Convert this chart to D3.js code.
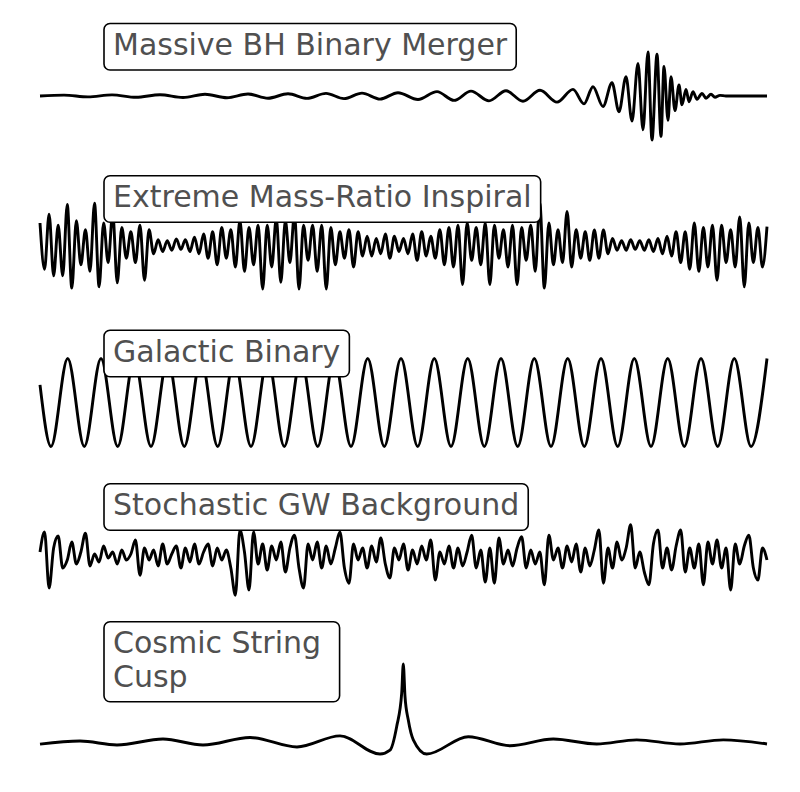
<!DOCTYPE html>
<html>
<head>
<meta charset="utf-8">
<script src="https://cdn.jsdelivr.net/npm/d3@7"></script>
<style>
  body { margin: 0; background: #fff; }
  svg { display: block; }
</style>
</head>
<body>
<svg id="chart" width="800" height="792"></svg>
<script>
// ---- data: time in samples (0..727), strain in normalised units ----

// massive BH binary merger: extrema of the chirp
const mergerT = [0, 24, 48, 72, 96, 120, 143, 165, 187, 208, 228, 248, 267, 286, 304, 322, 340, 358,
  378, 397, 414, 431, 449, 466, 483, 500, 517, 533, 544, 553, 563, 572, 579, 586, 592, 598, 603, 608,
  612, 617, 621, 624, 628, 631, 635, 639, 642, 646, 649, 653, 657, 662, 666, 671, 675, 680, 686, 727];
const mergerH = [0, 0.02, -0.02, 0.025, -0.03, 0.03, -0.035, 0.04, -0.04, 0.045, -0.05, 0.05, -0.055,
  0.06, -0.06, 0.065, -0.07, 0.075, -0.08, 0.1, -0.1, 0.11, -0.11, 0.12, -0.12, 0.13, -0.14, 0.15,
  -0.18, 0.21, -0.24, 0.3, -0.36, 0.44, -0.57, 0.74, -0.77, 1.0, -1.0, 0.95, -0.92, 0.67, -0.55, 0.44,
  -0.33, 0.25, -0.2, 0.15, -0.13, 0.1, -0.075, 0.06, -0.05, 0.04, -0.03, 0.015, 0, 0];

// extreme mass-ratio inspiral: evenly spaced samples
const emriH = [
  0.5, -0.55, 0.7, -0.7, 0.45, -0.7, 0.92, -0.98, 0.55, -0.45,
  0.35, -0.6, 0.95, -0.95, 0.5, -0.4, 0.73, -0.86, 0.4, -0.3,
  0.3, -0.4, 0.45, -0.8, 0.35, -0.2, 0.12, -0.15, 0.1, -0.12,
  0.14, -0.1, 0.12, -0.15, 0.18, -0.2, 0.25, -0.3, 0.3, -0.45,
  0.4, -0.3, 0.35, -0.5, 0.55, -0.6, 0.4, -0.45, 0.45, -1.0,
  0.45, -0.5, 0.6, -0.85, 0.55, -0.4, 0.7, -1.0, 0.45, -0.35,
  0.45, -0.6, 0.45, -1.0, 0.4, -0.45, 0.3, -0.3, 0.35, -0.5,
  0.3, -0.25, 0.2, -0.25, 0.15, -0.2, 0.25, -0.3, 0.2, -0.15,
  0.15, -0.2, 0.25, -0.35, 0.3, -0.25, 0.2, -0.3, 0.35, -0.45,
  0.4, -0.5, 0.45, -0.9, 0.5, -0.35, 0.4, -0.45, 0.5, -0.9,
  0.45, -0.3, 0.35, -0.5, 0.45, -0.9, 0.4, -0.35, 0.45, -0.6,
  0.95, -0.98, 0.5, -0.45, 0.35, -0.4, 0.76, -0.5, 0.35, -0.3,
  0.3, -0.35, 0.34, -0.3, 0.34, -0.2, 0.15, -0.12, 0.1, -0.12,
  0.12, -0.1, 0.1, -0.12, 0.12, -0.15, 0.15, -0.2, 0.2, -0.25,
  0.3, -0.4, 0.3, -0.55, 0.5, -0.6, 0.4, -0.5, 0.45, -0.8,
  0.45, -0.4, 0.35, -0.5, 0.64, -0.95, 0.5, -0.4, 0.4, -0.5, 0.42];

// galactic binary: start sample then every extremum
const gbT = [0, 11, 27.7, 44.3, 61, 77.7, 94.3, 111, 127.7, 144.3, 161, 177.7, 194.3, 211, 227.7, 244.3,
  261, 277.7, 294.3, 311, 327.7, 344.3, 361, 377.7, 394.3, 411, 427.7, 444.3, 461, 477.7, 494.3, 511,
  527.7, 544.3, 561, 577.7, 594.3, 611, 627.7, 644.3, 661, 677.7, 694.3, 711, 727];
const gbH = [0.4, -1, 1, -1, 1, -1, 1, -1, 1, -1, 1, -1, 1, -1, 1, -1, 1, -1, 1, -1, 1, -1, 1,
  -1, 1, -1, 1, -1, 1, -1, 1, -1, 1, -1, 1, -1, 1, -1, 1, -1, 1, -1, 1, -1, 1];

// stochastic background: evenly spaced samples
const sgwbH = [
  0.1, 0.6, -0.8, 0.2, 0.5, -0.3, -0.1, 0.35, -0.2, 0.1,
  0.57, -0.25, 0.05, -0.15, 0.25, -0.05, 0.1, -0.2, 0.15, -0.1,
  0.05, 0.4, -0.48, 0.2, -0.1, 0.15, -0.25, 0.3, -0.2, 0.05,
  0.25, -0.3, 0.2, -0.15, 0.3, -0.2, 0.1, 0.3, -0.25, 0.2,
  -0.1, 0.15, -0.3, -0.98, 0.65, 0.1, -0.85, 0.6, -0.2, 0.3,
  -0.35, 0.25, -0.1, 0.35, -0.4, 0.2, 0.52, -0.3, -0.8, 0.3,
  -0.1, 0.35, -0.3, 0.25, -0.2, 0.2, 0.6, -0.3, -0.68, 0.3,
  -0.1, 0.2, -0.3, 0.25, -0.15, 0.45, -0.2, -0.55, 0.2, -0.1,
  0.3, -0.35, 0.15, -0.2, 0.25, -0.1, 0.4, -0.6, 0.1, -0.2,
  0.25, -0.3, 0.2, -0.25, 0.1, 0.52, -0.3, 0.15, -0.65, 0.2,
  -0.68, 0.45, -0.2, 0.15, -0.25, 0.2, 0.48, -0.3, 0.15, -0.2,
  0.1, -0.72, 0.52, -0.1, 0.2, -0.3, 0.25, -0.15, 0.3, -0.4,
  0.2, -0.25, 0.15, 0.65, -0.68, 0.2, -0.3, 0.35, -0.1, 0.2,
  0.78, -0.3, 0.1, -0.4, -0.72, 0.3, 0.65, -0.3, 0.2, -0.35,
  0.25, 0.65, -0.4, 0.2, -0.3, 0.3, -0.72, 0.35, -0.2, 0.4,
  -0.3, 0.2, -0.85, 0.3, -0.2, 0.25, 0.52, -0.3, -0.6, 0.2, -0.1];

// cosmic string cusp
const cuspT = [0, 40, 77, 123, 163, 210, 257, 300, 340, 350, 356.7, 361.7, 363.3, 365, 368.3, 373.3,
  386.7, 428.3, 470, 513.3, 556.7, 596.7, 640, 683.3, 727];
const cuspH = [-0.015, 0.025, -0.025, 0.05, -0.025, 0.07, -0.05, 0.09, -0.14, -0.09, 0.21, 0.63, 1.0,
  0.59, 0.29, 0.04, -0.14, 0.08, -0.035, 0.05, -0.013, 0.04, -0.013, 0.04, -0.013];

const labels = [
  ['Massive BH Binary Merger'],
  ['Extreme Mass-Ratio Inspiral'],
  ['Galactic Binary'],
  ['Stochastic GW Background'],
  ['Cosmic String ', 'Cusp']
];

// evenly sampled series share the same time span
const evenT = (h) => h.map((d, i) => i * 727 / (h.length - 1));

// ---- layout ----
const svg = d3.select('#chart');
const x = d3.scaleLinear().domain([0, 727]).range([40, 767]);

const panels = [
  {t: mergerT, h: mergerH, mid: 96, half: 44, base: 55},
  {t: evenT(emriH), h: emriH, mid: 245, half: 44, base: 207.3},
  {t: gbT, h: gbH, mid: 402.5, half: 44, base: 361.7},
  {t: evenT(sgwbH), h: sgwbH, mid: 556, half: 40, base: 515.3},
  {t: cuspT, h: cuspH, mid: 743, half: 79, base: 653.3}
];

panels.forEach((p, k) => {
  const y = d3.scaleLinear().domain([-1, 1]).range([p.mid + p.half, p.mid - p.half]);
  const pts = p.t.map((t, i) => [t, p.h[i]]);
  const line = d3.line()
    .x(d => x(d[0]))
    .y(d => y(d[1]))
    .curve(d3.curveMonotoneX);

  svg.append('path')
    .datum(pts)
    .attr('d', line)
    .attr('fill', 'none')
    .attr('stroke', '#000')
    .attr('stroke-width', 2.9)
    .attr('stroke-linejoin', 'round');

  // label box drawn on top of the trace
  const g = svg.append('g');
  const rect = g.append('rect');
  const text = g.append('text')
    .attr('font-family', 'DejaVu Sans')
    .attr('font-size', 30)
    .attr('fill', '#505050')
    .style('white-space', 'pre');
  const lines = labels[k];
  lines.forEach((s, i) => {
    text.append('tspan')
      .attr('x', 113)
      .attr('y', p.base + i * 33.5)
      .text(s);
  });
  let w = 0;
  text.selectAll('tspan').each(function() { w = Math.max(w, this.getComputedTextLength()); });
  const top = p.base - 31.5;
  const bottom = p.base + (lines.length - 1) * 33.5 + 15;
  rect.attr('x', 104)
    .attr('y', top)
    .attr('width', 113 + w + 9 - 104)
    .attr('height', bottom - top)
    .attr('rx', 6)
    .attr('fill', '#fff')
    .attr('stroke', '#000')
    .attr('stroke-width', 1.6);
});
</script>
</body>
</html>
